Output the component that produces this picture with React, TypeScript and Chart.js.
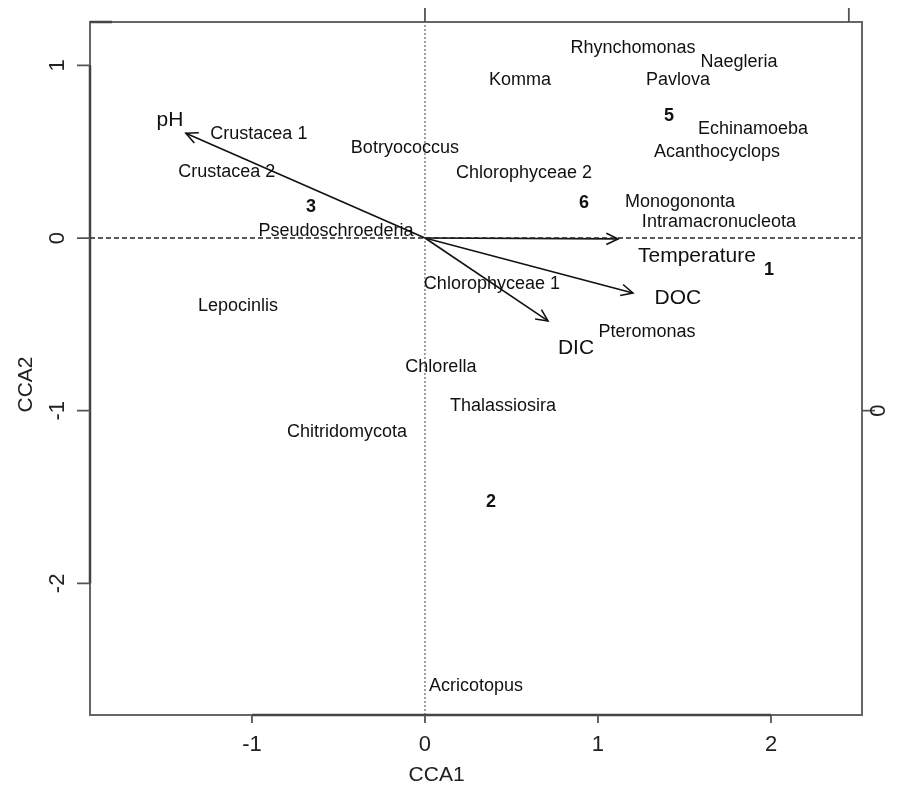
import { useEffect, useRef } from "react";
import { Chart, registerables } from "chart.js";

Chart.register(...registerables);

// ---- Data ----
const speciesNames = [
  "Rhynchomonas", "Naegleria", "Komma", "Pavlova", "Echinamoeba", "Acanthocyclops",
  "Crustacea 1", "Botryococcus", "Crustacea 2", "Chlorophyceae 2", "Monogononta",
  "Intramacronucleota", "Pseudoschroederia", "Chlorophyceae 1", "Lepocinlis",
  "Pteromonas", "Chlorella", "Thalassiosira", "Chitridomycota", "Acricotopus",
];
const speciesX = [1.202, 1.815, 0.549, 1.462, 1.896, 1.688, -0.96, -0.116, -1.145, 0.572, 1.474, 1.699, -0.514, 0.387, -1.081, 1.283, 0.092, 0.451, -0.451, 0.295];
const speciesY = [1.1, 1.019, 0.915, 0.915, 0.631, 0.498, 0.602, 0.521, 0.382, 0.376, 0.208, 0.093, 0.041, -0.266, -0.394, -0.544, -0.747, -0.973, -1.123, -2.594];

const siteNames = ["1", "2", "3", "5", "6"];
const siteX = [1.988, 0.382, -0.659, 1.41, 0.919];
const siteY = [-0.185, -1.529, 0.18, 0.706, 0.203];

const envNames = ["pH", "Temperature", "DOC", "DIC"];
const envX = [-1.382, 1.116, 1.202, 0.711];
const envY = [0.607, -0.005, -0.318, -0.48];
const envLabelX = [-1.474, 1.572, 1.462, 0.873];
const envLabelY = [0.683, -0.104, -0.347, -0.637];

const xTicks = [-1, 0, 1, 2];
const yTicks = [1, 0, -1, -2];
const xRange = [-1.936, 2.526];
const yRange = [-2.762, 1.251];
const xTitle = "CCA1";
const yTitle = "CCA2";
const rightTickValue = -1;
const rightTickLabel = "0";
const topTickValues = [0, 2.45];

const FONT = "'Liberation Sans', Arial, sans-serif";

const labelPlugin = {
  id: "labelPlugin",
  afterDatasetsDraw(chart: any) {
    const ctx = chart.ctx;
    chart.data.datasets.forEach((ds: any, di: number) => {
      const meta = chart.getDatasetMeta(di);
      if (ds.arrow) {
        const p0 = meta.data[0];
        const p1 = meta.data[1];
        const ang = Math.atan2(p1.y - p0.y, p1.x - p0.x);
        const L = 13;
        const a = Math.PI / 7;
        ctx.save();
        ctx.strokeStyle = "#111";
        ctx.lineWidth = 1.6;
        ctx.beginPath();
        ctx.moveTo(p1.x - L * Math.cos(ang - a), p1.y - L * Math.sin(ang - a));
        ctx.lineTo(p1.x, p1.y);
        ctx.lineTo(p1.x - L * Math.cos(ang + a), p1.y - L * Math.sin(ang + a));
        ctx.stroke();
        ctx.restore();
      }
      if (ds.textLabels) {
        ctx.save();
        ctx.font = ds.textFont;
        ctx.fillStyle = "#111";
        ctx.textAlign = "center";
        ctx.textBaseline = "middle";
        meta.data.forEach((el: any, i: number) => {
          ctx.fillText(ds.textLabels[i], el.x, el.y);
        });
        ctx.restore();
      }
    });
  },
  afterDraw(chart: any) {
    const ctx = chart.ctx;
    const { left, right, top, bottom } = chart.chartArea;
    const xs = chart.scales.x;
    const ys = chart.scales.y;
    ctx.save();
    // box
    ctx.strokeStyle = "#666";
    ctx.lineWidth = 2;
    ctx.strokeRect(left, top, right - left, bottom - top);
    // axis lines
    ctx.strokeStyle = "#444";
    ctx.lineWidth = 2.5;
    ctx.beginPath();
    ctx.moveTo(xs.getPixelForValue(xTicks[0]), bottom);
    ctx.lineTo(xs.getPixelForValue(xTicks[xTicks.length - 1]), bottom);
    ctx.moveTo(left, ys.getPixelForValue(yTicks[0]));
    ctx.lineTo(left, ys.getPixelForValue(yTicks[yTicks.length - 1]));
    ctx.moveTo(left, top);
    ctx.lineTo(left + 22, top);
    ctx.stroke();
    // ticks
    ctx.strokeStyle = "#555";
    ctx.lineWidth = 1.8;
    ctx.beginPath();
    xTicks.forEach((t) => {
      const px = xs.getPixelForValue(t);
      ctx.moveTo(px, bottom);
      ctx.lineTo(px, bottom + 8);
    });
    yTicks.forEach((t) => {
      const py = ys.getPixelForValue(t);
      ctx.moveTo(left - 13, py);
      ctx.lineTo(left, py);
    });
    topTickValues.forEach((t) => {
      const px = xs.getPixelForValue(t);
      ctx.moveTo(px, top - 14);
      ctx.lineTo(px, top);
    });
    const ry = ys.getPixelForValue(rightTickValue);
    ctx.moveTo(right, ry);
    ctx.lineTo(right + 13, ry);
    ctx.stroke();
    // tick labels
    ctx.fillStyle = "#222";
    ctx.font = `22px ${FONT}`;
    ctx.textAlign = "center";
    ctx.textBaseline = "middle";
    xTicks.forEach((t) => {
      ctx.fillText(String(t), xs.getPixelForValue(t), bottom + 30);
    });
    yTicks.forEach((t) => {
      ctx.save();
      ctx.translate(left - 32, ys.getPixelForValue(t));
      ctx.rotate(-Math.PI / 2);
      ctx.fillText(String(t), 0, 0);
      ctx.restore();
    });
    ctx.save();
    ctx.translate(right + 17, ry);
    ctx.rotate(-Math.PI / 2);
    ctx.fillText(rightTickLabel, 0, 0);
    ctx.restore();
    // titles
    ctx.font = `21px ${FONT}`;
    ctx.fillText(xTitle, (xs.getPixelForValue(0) + xs.getPixelForValue(0.1)) / 2 + 3, bottom + 60);
    ctx.save();
    ctx.translate(left - 64, (top + bottom) / 2 + 16);
    ctx.rotate(-Math.PI / 2);
    ctx.fillText(yTitle, 0, 0);
    ctx.restore();
    ctx.restore();
  },
};

export default function App() {
  const ref = useRef<HTMLCanvasElement | null>(null);
  useEffect(() => {
    if (!ref.current) return;
    const datasets: any[] = [
      {
        type: "line",
        data: [{ x: xRange[0], y: 0 }, { x: xRange[1], y: 0 }],
        borderColor: "#222",
        borderWidth: 1.4,
        borderDash: [5, 3],
        pointRadius: 0,
      },
      {
        type: "line",
        data: [{ x: 0, y: yRange[0] }, { x: 0, y: yRange[1] }],
        borderColor: "#444",
        borderWidth: 1,
        borderDash: [2, 2],
        pointRadius: 0,
      },
      ...envNames.map((n, i) => ({
        type: "line",
        label: n,
        data: [{ x: 0, y: 0 }, { x: envX[i], y: envY[i] }],
        borderColor: "#111",
        borderWidth: 1.6,
        pointRadius: 0,
        arrow: true,
      })),
      {
        type: "scatter",
        data: speciesNames.map((_, i) => ({ x: speciesX[i], y: speciesY[i] })),
        pointRadius: 0,
        textLabels: speciesNames,
        textFont: `18px ${FONT}`,
      },
      {
        type: "scatter",
        data: siteNames.map((_, i) => ({ x: siteX[i], y: siteY[i] })),
        pointRadius: 0,
        textLabels: siteNames,
        textFont: `bold 18px ${FONT}`,
      },
      {
        type: "scatter",
        data: envNames.map((_, i) => ({ x: envLabelX[i], y: envLabelY[i] })),
        pointRadius: 0,
        textLabels: envNames,
        textFont: `21px ${FONT}`,
      },
    ];
    const chart = new Chart(ref.current, {
      type: "scatter",
      data: { datasets },
      options: {
        animation: false,
        responsive: false,
        layout: { padding: { left: 90, right: 45, top: 22, bottom: 72 } },
        plugins: { legend: { display: false }, tooltip: { enabled: false } },
        scales: {
          x: { type: "linear", min: xRange[0], max: xRange[1], display: false },
          y: { type: "linear", min: yRange[0], max: yRange[1], display: false },
        },
      },
      plugins: [labelPlugin],
    } as any);
    return () => chart.destroy();
  }, []);
  return (
    <div style={{ position: "absolute", left: 0, top: 0, width: 907, height: 787, background: "#fff" }}>
      <canvas ref={ref} width={907} height={787} />
    </div>
  );
}
